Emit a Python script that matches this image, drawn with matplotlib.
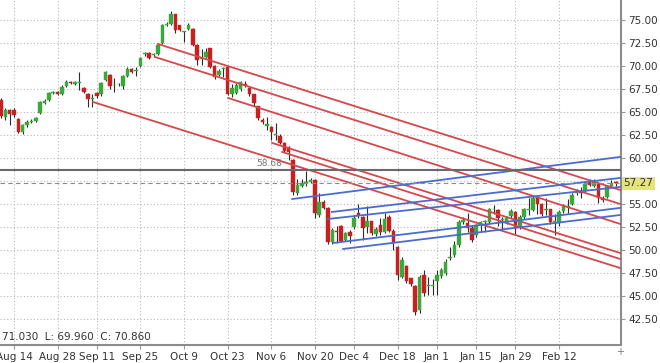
import numpy as np
import matplotlib
matplotlib.use("Agg")
import matplotlib.pyplot as plt

# daily candles (trading days, holidays skipped)
opens = [66.30, 64.45, 65.20, 65.20, 64.20, 62.80, 63.60, 63.90, 64.00, 64.90,
         66.00, 66.30, 67.10, 67.20, 66.90, 67.80, 68.30, 68.00, 68.20, 67.60,
         67.00, 66.40, 67.10, 66.90, 68.50, 69.00, 67.90, 68.00, 67.80, 68.90,
         69.70, 69.50, 70.00, 71.30, 71.40, 71.20, 71.30, 72.50, 74.50, 74.60,
         75.60, 74.40, 73.70, 74.00, 74.00, 72.30, 70.80, 71.00, 71.90, 70.00,
         69.00, 69.70, 69.90, 66.90, 67.10, 67.50, 68.00, 67.60, 66.90, 65.60,
         64.10, 63.50, 63.40, 62.50, 62.40, 61.60, 61.20, 59.80, 56.20, 57.00,
         57.30, 57.40, 57.60, 53.80, 55.20, 54.60, 50.90, 52.10, 52.60, 51.10,
         52.00, 52.50, 54.00, 53.60, 52.50, 53.10, 51.70, 52.70, 52.00, 53.60,
         52.10, 50.30, 47.10, 48.30, 46.90, 46.10, 43.50, 47.30, 46.10, 46.10,
         46.60, 47.20, 47.50, 49.10, 49.40, 50.50, 53.00, 52.90, 52.40, 51.60,
         52.70, 53.00, 53.00, 54.40, 54.30, 53.30, 52.90, 53.70, 54.10, 52.50,
         53.60, 54.30, 54.30, 55.70, 55.00, 54.30, 54.40, 53.00, 52.90, 54.20,
         54.70, 55.00, 56.20, 56.30, 56.40, 57.40, 56.90, 57.20, 55.60, 55.80,
         57.00, 57.30]
highs = [66.50, 65.40, 65.30, 65.40, 64.30, 63.70, 64.10, 64.20, 64.40, 66.20,
         66.40, 67.20, 67.30, 67.30, 67.90, 68.50, 68.40, 68.40, 69.30, 67.70,
         67.10, 67.00, 67.20, 68.30, 69.50, 69.10, 68.70, 68.20, 69.00, 69.90,
         69.80, 69.90, 71.00, 71.50, 71.50, 71.40, 72.50, 74.60, 74.80, 76.00,
         75.70, 74.50, 73.80, 74.70, 74.10, 72.40, 71.80, 71.90, 72.00, 70.10,
         69.70, 69.90, 70.00, 68.00, 68.10, 68.40, 68.40, 67.70, 67.00, 65.70,
         64.30, 64.40, 63.50, 63.80, 62.60, 61.70, 61.30, 59.90, 57.70, 57.70,
         58.60, 57.80, 57.70, 56.20, 55.40, 54.70, 52.40, 52.60, 52.70, 52.00,
         52.20, 53.80, 55.00, 53.70, 54.80, 53.20, 52.50, 53.50, 54.00, 53.80,
         52.30, 50.40, 49.20, 48.40, 47.00, 46.20, 47.30, 47.80, 47.10, 46.80,
         47.80, 48.00, 49.00, 50.30, 51.00, 53.30, 53.60, 54.00, 52.60, 52.80,
         53.20, 53.30, 54.60, 54.90, 54.40, 53.60, 53.70, 54.40, 54.20, 53.80,
         54.60, 55.70, 55.90, 55.90, 55.10, 55.60, 54.50, 53.90, 54.30, 55.00,
         55.50, 56.20, 56.60, 56.80, 57.40, 57.70, 57.70, 57.30, 55.90, 57.10,
         57.60, 57.50]
lows = [64.35, 64.10, 63.60, 64.50, 62.70, 62.60, 63.40, 63.80, 63.90, 64.80,
        65.90, 66.20, 66.90, 66.80, 66.80, 67.70, 68.00, 67.90, 67.40, 67.10,
        65.50, 65.50, 66.50, 66.70, 68.40, 67.50, 67.20, 67.80, 67.50, 68.80,
        69.20, 68.90, 69.90, 71.10, 70.80, 71.00, 71.20, 72.40, 74.30, 74.40,
        73.60, 73.80, 72.60, 73.90, 72.20, 70.10, 70.10, 70.90, 69.80, 68.60,
        68.90, 68.80, 66.80, 66.60, 66.90, 67.30, 67.70, 66.70, 65.60, 64.10,
        63.70, 63.00, 61.90, 61.90, 61.50, 60.70, 59.80, 56.00, 56.00, 56.80,
        57.00, 57.30, 53.50, 53.60, 54.40, 50.70, 50.60, 50.80, 50.90, 51.00,
        50.80, 52.30, 53.50, 51.10, 51.80, 51.60, 51.50, 51.60, 51.80, 52.00,
        50.00, 46.70, 46.90, 46.40, 46.10, 42.90, 43.20, 45.00, 45.10, 45.10,
        45.10, 47.00, 47.30, 48.90, 49.20, 50.30, 52.80, 51.90, 50.90, 51.40,
        51.90, 52.00, 52.80, 53.90, 52.60, 52.20, 52.80, 53.50, 51.60, 52.30,
        53.40, 53.80, 54.20, 53.90, 53.70, 53.80, 52.80, 51.60, 52.60, 54.00,
        54.00, 54.90, 56.00, 55.70, 56.30, 57.00, 56.80, 55.10, 55.20, 55.60,
        56.80, 57.00]
closes = [64.56, 65.20, 64.80, 64.70, 62.80, 63.60, 63.90, 64.00, 64.30, 66.10,
          66.20, 67.10, 67.10, 66.90, 67.70, 68.30, 68.20, 68.30, 68.30, 67.20,
          66.40, 66.50, 66.70, 68.20, 69.30, 67.80, 67.90, 68.00, 68.90, 69.70,
          69.30, 69.60, 70.90, 71.30, 70.90, 71.20, 72.30, 74.50, 74.60, 75.70,
          73.90, 73.90, 73.70, 74.50, 72.30, 70.60, 70.90, 71.50, 69.90, 68.80,
          69.50, 69.80, 67.00, 67.60, 67.90, 68.30, 67.90, 66.90, 66.00, 64.30,
          63.90, 63.70, 62.80, 62.60, 61.60, 60.80, 60.60, 56.30, 57.10, 57.30,
          57.30, 57.60, 54.00, 55.20, 54.60, 50.90, 52.20, 52.00, 51.00, 51.80,
          51.50, 53.50, 53.80, 52.40, 53.20, 51.80, 52.30, 51.90, 53.40, 52.10,
          50.80, 47.30, 48.90, 46.60, 46.30, 43.30, 47.10, 45.30, 46.20, 46.20,
          47.30, 47.80, 48.70, 49.20, 50.50, 53.00, 53.30, 52.40, 51.10, 52.70,
          53.00, 53.10, 54.40, 54.50, 53.50, 53.30, 53.50, 54.20, 52.40, 53.60,
          54.50, 54.40, 55.70, 55.00, 53.90, 54.40, 53.00, 53.10, 54.10, 54.80,
          54.80, 56.00, 56.30, 56.20, 57.20, 57.10, 57.40, 55.70, 55.40, 56.90,
          57.30, 57.27]

tick_pos = [3, 13, 22, 32, 42, 52, 62, 72, 81, 91, 100, 109, 118, 128]
tick_labels = ["Aug 14", "Aug 28", "Sep 11", "Sep 25", "Oct 9", "Oct 23", "Nov 6",
               "Nov 20", "Dec 4", "Dec 18", "Jan 1", "Jan 15", "Jan 29", "Feb 12"]

# trend lines: (start index, start price, end index, end price)
red_lines = [(36.0, 72.39, 142.0, 56.52),
             (35.3, 70.98, 142.0, 55.00),
             (52.1, 66.52, 142.0, 52.83),
             (62.2, 61.63, 142.0, 49.67),
             (64.5, 60.65, 142.0, 49.02),
             (21.1, 66.09, 142.0, 48.04)]
blue_lines = [(66.8, 55.54, 142.0, 60.11),
              (75.9, 54.13, 142.0, 57.83),
              (75.0, 53.37, 142.0, 56.85),
              (76.2, 50.76, 142.0, 54.57),
              (78.5, 50.11, 142.0, 53.80)]

level_line = 58.68
last_price = 57.27
ohlc_text = "71.030  L: 69.960  C: 70.860"

fig = plt.figure(figsize=(6.6, 3.63), dpi=100)
ax = fig.add_axes([0.0, 18 / 363, 621 / 660, 345 / 363])
ax.set_xlim(-0.21, 142.2)
ax.set_ylim(39.67, 77.17)

x = np.arange(len(closes))
o = np.array(opens)
c = np.array(closes)
up = c >= o
cols = np.where(up, "#3aa83a", "#c82020")
bottoms = np.minimum(o, c)
heights = np.maximum(np.abs(c - o), 0.08)

ax.vlines(x, lows, highs, color="#2a2a2a", lw=0.8, zorder=3)
ax.bar(x, heights, bottom=bottoms, width=0.8, color=cols, edgecolor=cols,
       lw=0.3, zorder=4)

for x0, y0, x1, y1 in red_lines:
    ax.plot([x0, x1], [y0, y1], color="#d4484c", lw=1.3, zorder=5)
for x0, y0, x1, y1 in blue_lines:
    ax.plot([x0, x1], [y0, y1], color="#4a6bd0", lw=1.3, zorder=5)

ax.axhline(level_line, color="#6a6a6a", lw=1.5, zorder=6)
ax.text(61.5, level_line + 0.25, "58.68", fontsize=6.5, color="#777777",
        ha="center", va="bottom", zorder=7)
ax.axhline(last_price, color="#8a8a8a", lw=0.8, ls=(0, (4, 3)), zorder=6)

# grid
ax.set_xticks(tick_pos)
ax.set_xticklabels(tick_labels)
yticks = np.arange(42.5, 76, 2.5)
ax.set_yticks(yticks)
ax.set_yticklabels(["" if v == 57.5 else "%.2f" % v for v in yticks])
ax.yaxis.tick_right()
ax.grid(True, color="#b8b8b8", ls=(0, (1, 2)), lw=0.8)
ax.set_axisbelow(True)
ax.tick_params(axis="both", labelsize=7.5, colors="#333333", length=3,
               width=0.8, pad=2)
ax.tick_params(axis="x", color="#999999")
ax.tick_params(axis="y", color="#999999")

for s in ["top", "left"]:
    ax.spines[s].set_visible(False)
for s in ["right", "bottom"]:
    ax.spines[s].set_color("#8c8c8c")
    ax.spines[s].set_linewidth(1.5)

ax.text(1.006, 77.5, "77.50", transform=ax.get_yaxis_transform(), fontsize=7.5,
        color="#333333", va="center", clip_on=False)
ax.text(1.004, last_price, "57.27", transform=ax.get_yaxis_transform(),
        fontsize=7.5, color="#333333", va="center", clip_on=False, zorder=8,
        bbox=dict(boxstyle="square,pad=0.15", fc="#e4e47c", ec="none"))
ax.text(0.004, 0.008, ohlc_text, transform=ax.transAxes, fontsize=7.5,
        color="#333333", va="bottom", ha="left")
fig.text(620 / 660, 1 - 352 / 363, "+", fontsize=7, color="#777777",
         ha="center", va="center")

fig.savefig("out.png", dpi=100)
